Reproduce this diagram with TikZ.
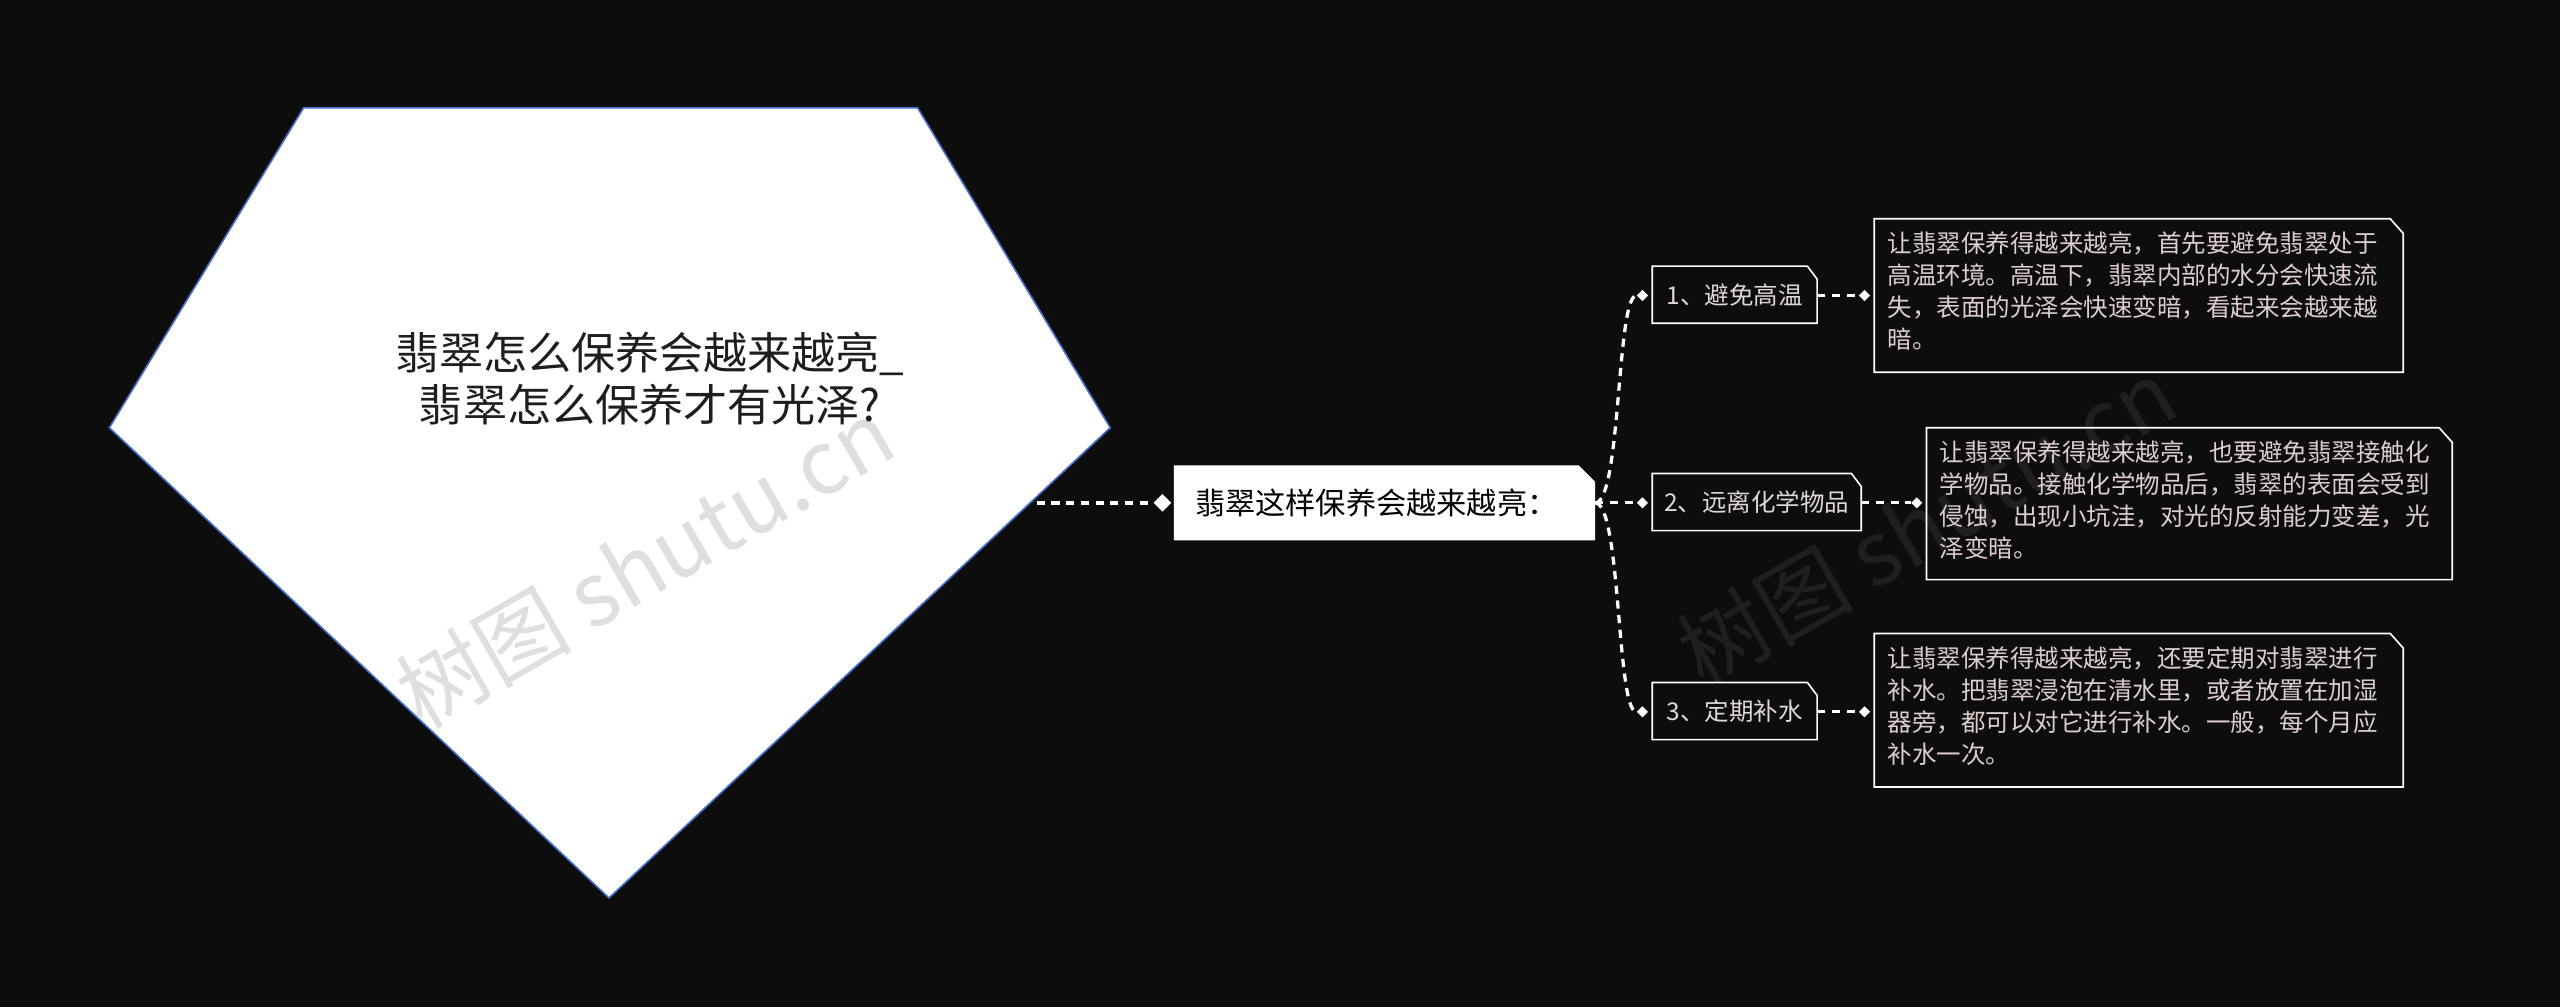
\documentclass[tikz,border=0pt]{standalone}
\usepackage{fontspec}
\setmainfont{Noto Sans CJK SC}
\usetikzlibrary{shapes.geometric}
\begin{document}
\begin{tikzpicture}[x=1pt,y=-1pt,
  conn/.style={draw=white,line width=2.5pt,dash pattern=on 5pt off 4pt},
  dia/.style={fill=white,draw=none,minimum size=7pt,inner sep=0pt,shape=diamond},
  leaf/.style={text={rgb,255:red,222;green,205;blue,205},font=\fontsize{15}{19.5}\selectfont,align=left,anchor=north west,inner sep=0pt}]
\fill[fill={rgb,255:red,13;green,13;blue,13}] (0,0) rectangle (1568,617);
\useasboundingbox (0,0) rectangle (1568,617);
% pentagon
\draw[draw={rgb,255:red,70;green,110;blue,200},fill=white,line width=1pt]
  (186,66) -- (562,66) -- (680,262) -- (373,550) -- (67,262) -- cycle;
\node[font=\fontsize{27}{32}\selectfont,align=center,text={rgb,255:red,30;green,30;blue,30}] (root) at (398,232) {翡翠怎么保养会越来越亮\_\\翡翠怎么保养才有光泽?};
% watermarks
\node[rotate=30,text=gray,opacity=0.25,font=\fontsize{54}{54}\selectfont] (wm1) at (395,345) {树图 shutu.cn};
\node[rotate=30,text=white,opacity=0.08,font=\fontsize{54}{54}\selectfont] (wm2) at (1180,320) {树图 shutu.cn};
\coordinate (rootR) at (635,308);
% main node
\fill[white] (719,285) -- (967,285) -- (977,295) -- (977,331) -- (719,331) -- cycle;
\node[font=\fontsize{18.5}{20}\selectfont,text=black] (main) at (843,308) {翡翠这样保养会越来越亮：};
\node[dia,minimum size=11pt] (d0) at (712,308) {};
\draw[conn] (rootR) -- (d0);
% subs
\foreach \n/\xa/\xb/\ya/\yb/\t in {1/1012/1113/163/198/1、避免高温,2/1012/1140/290/325/2、远离化学物品,3/1012/1113/418/453/3、定期补水}{
  \draw[white,line width=1pt,fill={rgb,255:red,13;green,13;blue,13}] (\xa,\ya) -- (\xb-6,\ya) -- (\xb,\ya+8) -- (\xb,\yb) -- (\xa,\yb) -- cycle;
  \node[text={rgb,255:red,225;green,215;blue,215},font=\fontsize{15}{16}\selectfont] (s\n) at ({(\xa+\xb)/2},{(\ya+\yb)/2}) {\t};
}
\node[dia] (ds1) at (1006,181) {};
\node[dia] (ds2) at (1006,308) {};
\node[dia] (ds3) at (1006,436) {};
\coordinate (mainR) at (977,308);
\draw[conn,line width=2pt] (mainR) -- (ds2);
\draw[conn,line width=2pt] (mainR) .. controls (993,308) and (990,181) .. (ds1);
\draw[conn,line width=2pt] (mainR) .. controls (993,308) and (990,436) .. (ds3);
% leaves
\foreach \n/\xa/\xb/\ya/\yb in {1/1148/1472/134/228,2/1180/1502/262/355,3/1148/1472/388/482}{
  \draw[white,line width=1pt] (\xa,\ya) -- (\xb-8,\ya) -- (\xb,\ya+9) -- (\xb,\yb) -- (\xa,\yb) -- cycle;
  \coordinate (L\n) at (\xa+8,\ya+8);
}
\node[dia] (dl1) at (1142,181) {};
\node[dia] (dl2) at (1174,308) {};
\node[dia] (dl3) at (1142,436) {};
\draw[conn,line width=2pt] (1113,181) -- (dl1);
\draw[conn,line width=2pt] (1140,308) -- (dl2);
\draw[conn,line width=2pt] (1113,436) -- (dl3);
\node[leaf] (t1) at (L1) {让翡翠保养得越来越亮，首先要避免翡翠处于\\高温环境。高温下，翡翠内部的水分会快速流\\失，表面的光泽会快速变暗，看起来会越来越\\暗。};
\node[leaf] (t2) at (L2) {让翡翠保养得越来越亮，也要避免翡翠接触化\\学物品。接触化学物品后，翡翠的表面会受到\\侵蚀，出现小坑洼，对光的反射能力变差，光\\泽变暗。};
\node[leaf] (t3) at (L3) {让翡翠保养得越来越亮，还要定期对翡翠进行\\补水。把翡翠浸泡在清水里，或者放置在加湿\\器旁，都可以对它进行补水。一般，每个月应\\补水一次。};
\end{tikzpicture}
\end{document}
